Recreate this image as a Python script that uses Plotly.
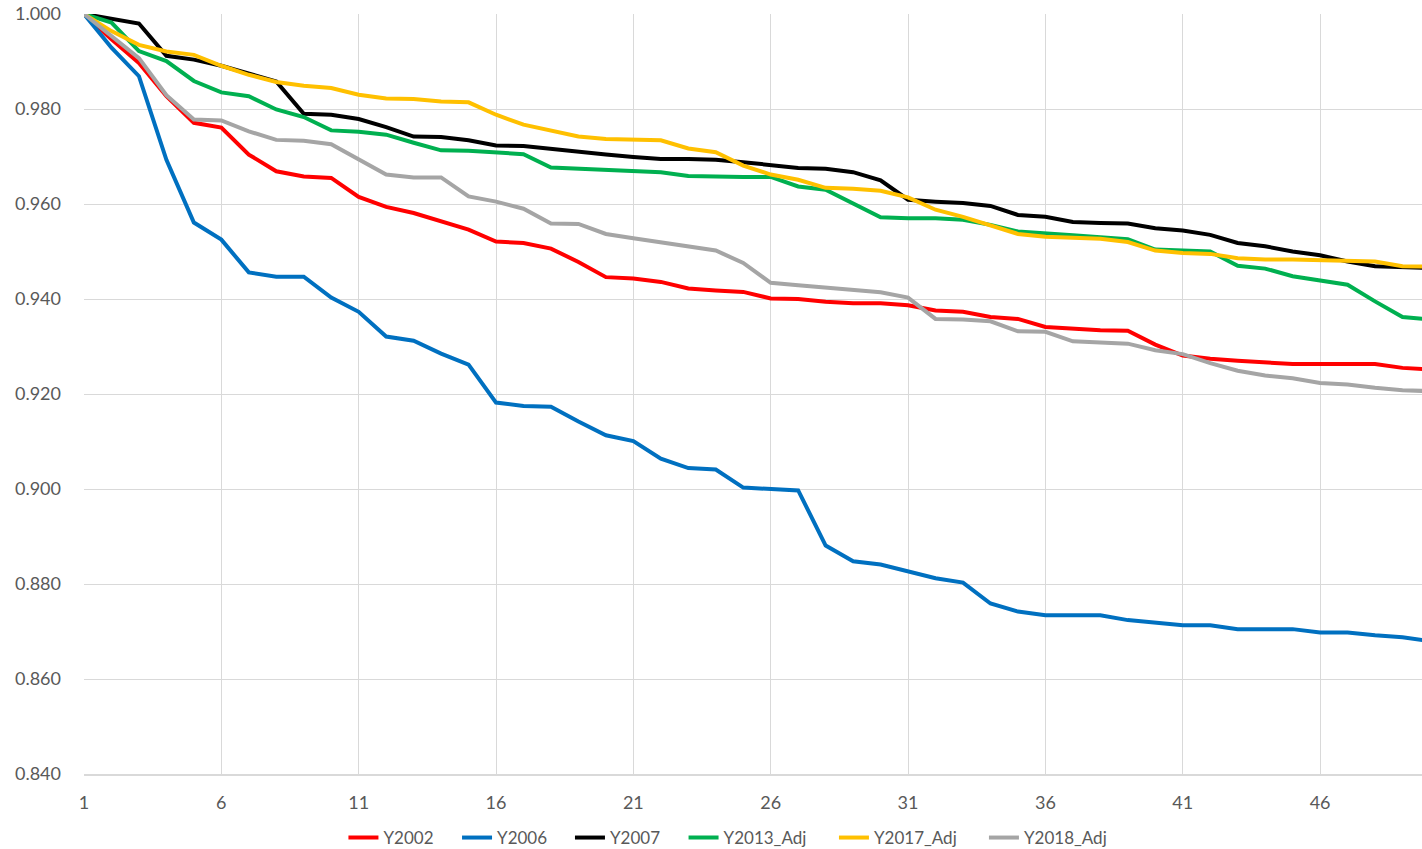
import plotly.graph_objects as go

periods = list(range(1, 51))

y2002 = [1.0000, 0.9947, 0.9897, 0.9827, 0.9771, 0.9761, 0.9704, 0.9669, 0.9658, 0.9655,
         0.9615, 0.9594, 0.9581, 0.9563, 0.9546, 0.9521, 0.9518, 0.9506, 0.9478, 0.9446,
         0.9443, 0.9436, 0.9422, 0.9418, 0.9415, 0.9401, 0.9400, 0.9394, 0.9391, 0.9391,
         0.9387, 0.9376, 0.9373, 0.9362, 0.9358, 0.9341, 0.9337, 0.9334, 0.9333, 0.9304,
         0.9281, 0.9274, 0.9270, 0.9267, 0.9263, 0.9263, 0.9263, 0.9263, 0.9255, 0.9252]

y2006 = [1.0000, 0.9929, 0.9869, 0.9693, 0.9561, 0.9525, 0.9456, 0.9447, 0.9447, 0.9403,
         0.9373, 0.9321, 0.9312, 0.9285, 0.9262, 0.9182, 0.9175, 0.9173, 0.9142, 0.9113,
         0.9101, 0.9064, 0.9044, 0.9041, 0.9003, 0.9001, 0.8997, 0.8881, 0.8848, 0.8841,
         0.8826, 0.8812, 0.8803, 0.8759, 0.8742, 0.8734, 0.8734, 0.8734, 0.8724, 0.8719,
         0.8713, 0.8713, 0.8705, 0.8705, 0.8705, 0.8698, 0.8698, 0.8692, 0.8688, 0.8680]

y2007 = [1.0000, 0.9989, 0.9980, 0.9912, 0.9904, 0.9891, 0.9874, 0.9858, 0.9790, 0.9788,
         0.9779, 0.9762, 0.9742, 0.9741, 0.9734, 0.9723, 0.9722, 0.9716, 0.9708, 0.9704,
         0.9699, 0.9695, 0.9695, 0.9693, 0.9688, 0.9682, 0.9676, 0.9674, 0.9667, 0.9650,
         0.9609, 0.9605, 0.9602, 0.9596, 0.9577, 0.9573, 0.9562, 0.9560, 0.9559, 0.9549,
         0.9544, 0.9535, 0.9518, 0.9511, 0.9500, 0.9492, 0.9479, 0.9469, 0.9467, 0.9465]

y2013_adj = [1.0000, 0.9982, 0.9922, 0.9901, 0.9859, 0.9835, 0.9827, 0.9799, 0.9783, 0.9755,
             0.9752, 0.9746, 0.9729, 0.9713, 0.9712, 0.9709, 0.9705, 0.9677, 0.9674, 0.9672,
             0.9670, 0.9667, 0.9659, 0.9657, 0.9657, 0.9657, 0.9637, 0.9630, 0.9601, 0.9572,
             0.9570, 0.9570, 0.9567, 0.9556, 0.9542, 0.9537, 0.9534, 0.9530, 0.9526, 0.9504,
             0.9502, 0.9500, 0.9470, 0.9464, 0.9448, 0.9439, 0.9430, 0.9395, 0.9362, 0.9357]

y2017_adj = [1.0000, 0.9964, 0.9935, 0.9921, 0.9914, 0.9891, 0.9872, 0.9857, 0.9849, 0.9844,
             0.9830, 0.9822, 0.9821, 0.9816, 0.9814, 0.9788, 0.9767, 0.9754, 0.9742, 0.9737,
             0.9735, 0.9734, 0.9717, 0.9709, 0.9681, 0.9662, 0.9651, 0.9634, 0.9632, 0.9628,
             0.9614, 0.9588, 0.9573, 0.9554, 0.9537, 0.9531, 0.9528, 0.9527, 0.9520, 0.9502,
             0.9497, 0.9495, 0.9486, 0.9483, 0.9483, 0.9481, 0.9479, 0.9479, 0.9469, 0.9468]

y2018_adj = [1.0000, 0.9954, 0.9907, 0.9829, 0.9778, 0.9776, 0.9753, 0.9735, 0.9733, 0.9726,
             0.9693, 0.9662, 0.9656, 0.9656, 0.9616, 0.9605, 0.9590, 0.9559, 0.9558, 0.9537,
             0.9528, 0.9519, 0.9511, 0.9502, 0.9476, 0.9434, 0.9429, 0.9424, 0.9421, 0.9414,
             0.9403, 0.9358, 0.9357, 0.9353, 0.9332, 0.9331, 0.9311, 0.9309, 0.9306, 0.9292,
             0.9284, 0.9265, 0.9249, 0.9239, 0.9233, 0.9223, 0.9220, 0.9213, 0.9208, 0.9206]

series_names = ["Y2002", "Y2006", "Y2007", "Y2013_Adj", "Y2017_Adj", "Y2018_Adj"]
series_values = [y2002, y2006, y2007, y2013_adj, y2017_adj, y2018_adj]
series_colors = ["#FF0000", "#0070C0", "#000000", "#00B050", "#FFC000", "#A5A5A5"]

x_tick_vals = [1, 6, 11, 16, 21, 26, 31, 36, 41, 46]
y_tick_vals = [0.84, 0.86, 0.88, 0.90, 0.92, 0.94, 0.96, 0.98, 1.00]

# legend entry anchors (paper x) so each entry sits where the reference shows it
legend_x = [0.1939, 0.2788, 0.3632, 0.4481, 0.5605, 0.6726]
legend_ids = ["legend", "legend2", "legend3", "legend4", "legend5", "legend6"]

fig = go.Figure()
for name, vals, col, lid in zip(series_names, series_values, series_colors, legend_ids):
    fig.add_trace(go.Scatter(
        x=periods, y=vals, mode="lines", name=name, legend=lid,
        line=dict(color=col, width=4),
    ))

font_family = "Lato, 'Open Sans', sans-serif"
legend_style = dict(
    orientation="h", xanchor="left", y=-0.0842, yanchor="middle",
    font=dict(size=17, color="#595959"), itemwidth=30,
    bgcolor="rgba(0,0,0,0)",
)
layout_legends = {lid: dict(legend_style, x=lx) for lid, lx in zip(legend_ids, legend_x)}

fig.update_layout(
    width=1422, height=849,
    margin=dict(l=84, r=0, t=14, b=75, autoexpand=False),
    paper_bgcolor="white", plot_bgcolor="white",
    font=dict(family=font_family, size=18, color="#595959"),
    showlegend=True,
    **layout_legends,
)
fig.update_xaxes(
    range=[1, 49.71], tickmode="array", tickvals=x_tick_vals,
    ticktext=[str(v) for v in x_tick_vals],
    showgrid=True, gridcolor="#D9D9D9", gridwidth=1,
    showline=True, linecolor="#D9D9D9", linewidth=1.5,
    zeroline=False, ticks="", ticklabelstandoff=12,
)
fig.update_yaxes(
    range=[0.84, 1.0], tickmode="array", tickvals=y_tick_vals,
    ticktext=[f"{v:.3f}" for v in y_tick_vals],
    showgrid=True, gridcolor="#D9D9D9", gridwidth=1,
    zeroline=False, ticks="", ticklabelstandoff=22,
)

fig.write_html(
    "out.html",
    config={"displayModeBar": False},
    post_script="document.body.style.margin='0';document.body.style.overflow='hidden';",
)
